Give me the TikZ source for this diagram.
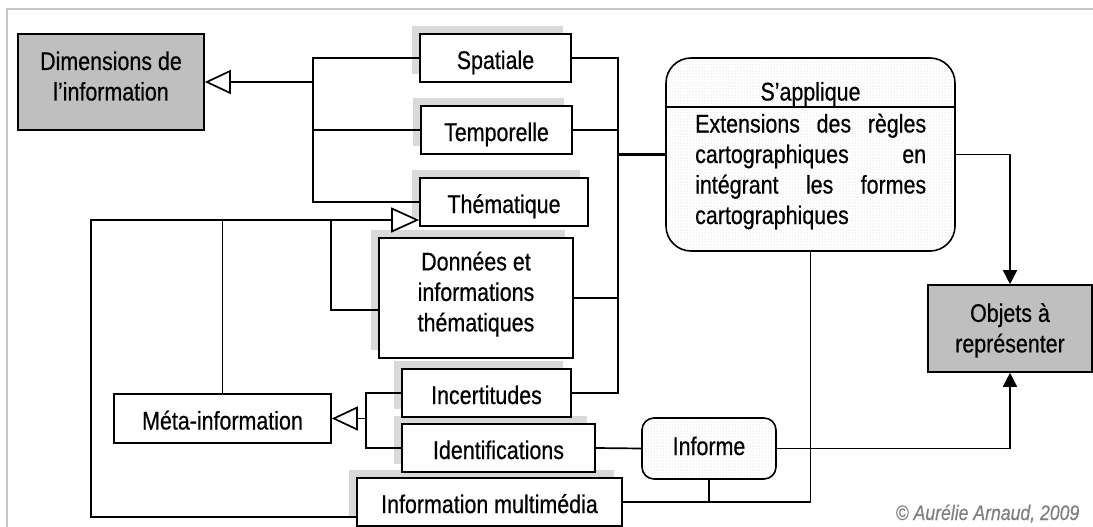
\documentclass[tikz,border=0pt]{standalone}
\usepackage{fontspec}
\setmainfont{Liberation Sans}[FakeStretch=0.84, FakeBold=0.5]
\usetikzlibrary{arrows.meta,shadows,patterns}
\begin{document}
\begin{tikzpicture}[x=1pt,y=-1pt,
  every node/.style={font=\fontsize{25.5}{30.5}\selectfont, inner sep=0pt},
  box/.style={draw, line width=1.6pt, fill=white, align=center,
    general shadow={fill=gray!30, shadow xshift=-8pt, shadow yshift=8pt}},
  plainbox/.style={draw, line width=1.6pt, fill=white, align=center},
  graybox/.style={draw, line width=1.6pt, fill=gray!50, align=center},
  dotbox/.style={draw, line width=1.6pt, preaction={fill=white}, pattern=dots, pattern color=gray!38, align=center},
  oneline/.style={text height=22pt, text depth=0pt},
  conn/.style={line width=1.7pt},
  thinconn/.style={line width=1.2pt},
  hollowtip/.style={-{Triangle[open, fill=white, length=26pt, width=24pt]}},
  filltip/.style={-{Triangle[length=14pt, width=14pt]}},
]
\useasboundingbox (0,0) rectangle (1093,527);
\draw[gray!44, line width=2pt] (7,527) -- (7,9) -- (1093,9);

% boxes (bottom first so shadows lie beneath upper boxes)
\node[box, oneline, minimum width=265pt, minimum height=48pt] (mul) at (489.5,502) {Information multimédia};
\node[box, oneline, minimum width=193pt, minimum height=48pt] (ide) at (498.5,448) {Identifications};
\node[box, oneline, minimum width=169pt, minimum height=48pt] (inc) at (486.5,393) {Incertitudes};
\node[box, minimum width=194pt, minimum height=120pt, text depth=13pt] (don) at (476,298) {Données et\\informations\\thématiques};
\node[box, oneline, minimum width=168pt, minimum height=48pt] (the) at (504,202) {Thématique};
\node[box, oneline, minimum width=151pt, minimum height=48pt] (tem) at (496.5,130) {Temporelle};
\node[box, oneline, minimum width=151pt, minimum height=48pt] (spa) at (495.5,58) {Spatiale};

\node[graybox, minimum width=186pt, minimum height=96pt, text depth=12pt] (dim) at (111,82) {Dimensions de\\l’information};
\node[plainbox, oneline, minimum width=217pt, minimum height=49pt] (met) at (222.5,418.5) {Méta-information};
\node[graybox, minimum width=164pt, minimum height=87pt, text depth=1.5pt] (obj) at (1010,328.5) {Objets à\\représenter};
\node[dotbox, text height=18pt, text depth=5pt, rounded corners=12pt, minimum width=134pt, minimum height=61pt] (inf) at (709,448.5) {Informe};
\node[dotbox, rounded corners=25pt, minimum width=289pt, minimum height=193pt] (sap) at (810.5,154.5) {};
\draw[line width=1.4pt] (sap.west |- 0,107) -- (sap.east |- 0,107);
\node[anchor=base] (sapt) at (810.5,100.5) {S’applique};
\node[anchor=base west] (l1) at (695,132.5) {\hbox to 231pt{Extensions\hfill des\hfill règles}};
\node[anchor=base west] (l2) at (695,163) {\hbox to 231pt{cartographiques\hfill en}};
\node[anchor=base west] (l3) at (695,193.5) {\hbox to 231pt{intégrant\hfill les\hfill formes}};
\node[anchor=base west] (l4) at (695,224) {\hbox to 231pt{cartographiques\hfill}};

\node[anchor=base, font=\fontsize{21}{25}\selectfont\itshape, text=gray] (copy) at (987.5,520) {© Aurélie Arnaud, 2009};

% coordinates
\coordinate (jD) at (313,82);
\coordinate (mulL) at (357,517);

% Dimensions de l'information
\draw[conn] (spa.west) -- (313,58) -- (313,202) -- (the.west);
\draw[conn] (tem.west) -- (313,130);
\draw[conn, hollowtip] (jD) -- (dim.east);

% right bus to S'applique
\draw[conn] (spa.east) -- (618,58) -- (618,393) -- (inc.east);
\draw[conn] (tem.east) -- (618,130);
\draw[conn] (don.east) -- (618,298);
\draw[line width=2.2pt] (618,154.5) -- (sap.west);

% Thematique generalisation
\draw[thinconn] (mulL) -- (91,517) -- (91,220) -- (331,220);
\draw[thinconn] (met.north) -- (222.5,220);
\draw[conn] (don.west |- 0,310) -- (331,310) -- (331,220);
\draw[conn, -{Triangle[open, fill=white, length=28pt, width=25pt]}] (331,220) -- (the.west |- 0,220);

% Meta-information
\draw[conn] (inc.west) -- (366,393) -- (366,448) -- (ide.west);
\draw[conn, hollowtip] (366,418.5) -- (met.east);

% Informe
\draw[conn] (ide.east) -- (inf.west);
\draw[thinconn] (inf.south) -- (709,502);
\draw[thinconn] (mul.east) -- (810.5,502) -- (sap.south);
\draw[conn, filltip] (inf.east) -| (obj.south);
\draw[conn, filltip] (sap.east) -| (obj.north);
\end{tikzpicture}
\end{document}
